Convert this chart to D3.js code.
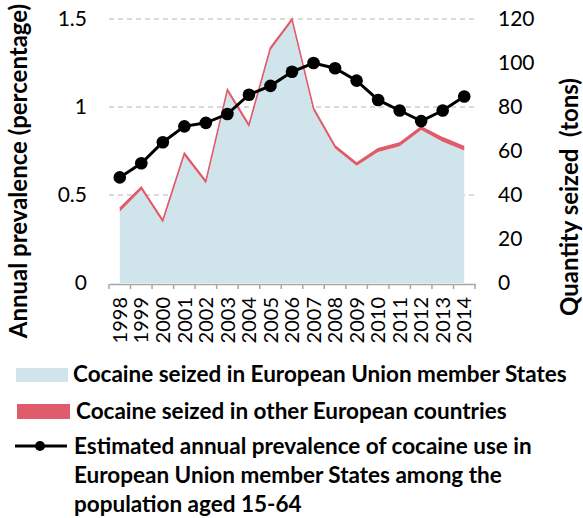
<!DOCTYPE html>
<html>
<head>
<meta charset="utf-8">
<script src="https://cdn.jsdelivr.net/npm/d3@7"></script>
<style>
  html, body { margin: 0; padding: 0; background: #fff; }
  svg { display: block; font-family: Lato, "Open Sans", sans-serif; }
</style>
</head>
<body>
<svg id="chart" width="583" height="518"></svg>
<script>
// ---------- data ----------
const years = ["1998","1999","2000","2001","2002","2003","2004","2005","2006","2007","2008","2009","2010","2011","2012","2013","2014"];
// tons seized in EU member States
const seizedEU = [32.4, 42.4, 27.4, 57.8, 45.2, 86.8, 70.8, 105.8, 119.0, 78.3, 61.1, 53.3, 59.6, 62.2, 69.6, 64.2, 60.2];
// tons seized in other European countries (stacked on top)
const seizedOther = [1.6, 1.2, 1.2, 1.2, 1.2, 1.2, 1.2, 1.2, 1.0, 1.2, 1.2, 1.2, 1.4, 1.4, 1.4, 1.8, 1.8];
// annual prevalence (%) of cocaine use, EU, age 15-64
const prevalence = [0.60, 0.68, 0.80, 0.89, 0.91, 0.96, 1.07, 1.12, 1.20, 1.25, 1.22, 1.15, 1.04, 0.98, 0.92, 0.98, 1.06];
const leftTicks = [0, 0.5, 1, 1.5];
const leftTickLabels = ["0", "0.5", "1", "1.5"];
const rightTicks = [0, 20, 40, 60, 80, 100, 120];
const legendLabels = [
  "Cocaine seized in European Union member States",
  "Cocaine seized in other European countries",
  ["Estimated annual prevalence of cocaine use in", "European Union member States among the", "population aged 15-64"]
];
const leftTitle = "Annual prevalence (percentage)";
const rightTitle = "Quantity seized\u00a0 (tons)";

// ---------- styles ----------
const blue = "#cfe4eb", red = "#e05b6b";

const svg = d3.select("#chart");
const plot = { left: 109, right: 475, top: 19, bottom: 283 };

const x = d3.scaleBand().domain(years).range([plot.left, plot.right]);
const xc = d => x(d) + x.bandwidth() / 2;
const yL = d3.scaleLinear().domain([0, 1.5]).range([plot.bottom, plot.top]);
const yR = d3.scaleLinear().domain([0, 120]).range([plot.bottom, plot.top]);

// gridlines
svg.append("g").selectAll("line").data(leftTicks.filter(t => t > 0)).join("line")
  .attr("x1", plot.left).attr("x2", plot.right)
  .attr("y1", d => yL(d)).attr("y2", d => yL(d))
  .attr("stroke", "#b4b4b4").attr("stroke-width", 1).attr("stroke-dasharray", "5,4");

// stacked areas
const rows = years.map((y, i) => ({ year: y, eu: seizedEU[i], other: seizedOther[i] }));
const stack = d3.stack().keys(["eu", "other"])(rows);
const area = d3.area().x(d => xc(d.data.year)).y0(d => yR(d[0])).y1(d => yR(d[1]));
svg.append("path").datum(stack[0]).attr("d", area).attr("fill", blue);
svg.append("path").datum(stack[1]).attr("d", area).attr("fill", red);
svg.append("path").datum(stack[1])
  .attr("d", d3.line().x(d => xc(d.data.year)).y(d => yR(d[1])))
  .attr("fill", "none").attr("stroke", red).attr("stroke-width", 1.5);

// x axis
const xAxis = d3.axisBottom(x).tickSize(0).tickFormat(() => "");
const gx = svg.append("g").attr("transform", `translate(0,${plot.bottom + 1})`).call(xAxis);
gx.select(".domain").attr("stroke", "#a6a6a6").attr("stroke-width", 1.5);
const bounds = years.map(d => x(d)).concat([plot.right]);
gx.selectAll(".bt").data(bounds).join("line").attr("class", "bt")
  .attr("x1", d => d).attr("x2", d => d).attr("y1", 0).attr("y2", 5)
  .attr("stroke", "#a6a6a6").attr("stroke-width", 1.5);
svg.append("g").selectAll("text").data(years).join("text")
  .attr("transform", d => `translate(${xc(d)},297) rotate(-90)`)
  .attr("text-anchor", "end").attr("dy", "0.36em")
  .attr("font-size", 20).attr("fill", "#000").text(d => d);

// left axis
const gl = svg.append("g").attr("transform", `translate(${plot.left},0)`)
  .call(d3.axisLeft(yL).tickValues(leftTicks).tickSize(0).tickPadding(22).tickFormat((d, i) => leftTickLabels[i]));
gl.select(".domain").remove();
gl.selectAll("text").attr("font-size", 21).attr("font-family", "Lato, sans-serif").attr("fill", "#000");

// right axis
const gr = svg.append("g").attr("transform", `translate(${plot.right},0)`)
  .call(d3.axisRight(yR).tickValues(rightTicks).tickSize(0).tickPadding(23).tickFormat(d3.format("d")));
gr.select(".domain").remove();
gr.selectAll("text").attr("font-size", 21).attr("font-family", "Lato, sans-serif").attr("fill", "#000");

// prevalence line
svg.append("path").datum(prevalence)
  .attr("d", d3.line().x((d, i) => xc(years[i])).y(d => yL(d)))
  .attr("fill", "none").attr("stroke", "#000").attr("stroke-width", 3);
svg.append("g").selectAll("circle").data(prevalence).join("circle")
  .attr("cx", (d, i) => xc(years[i])).attr("cy", d => yL(d)).attr("r", 6.3).attr("fill", "#000");

// axis titles
svg.append("text").attr("transform", "translate(27,171) rotate(-90)")
  .attr("text-anchor", "middle").attr("font-weight", "bold").attr("font-size", 24).text(leftTitle);
svg.append("text").attr("transform", "translate(578,197) rotate(-90)")
  .attr("text-anchor", "middle").attr("font-weight", "bold").attr("font-size", 24)
  .attr("xml:space", "preserve").text(rightTitle);

// legend
const lg = svg.append("g").attr("font-weight", "bold").attr("font-size", 22.5);
lg.append("rect").attr("x", 16).attr("y", 368).attr("width", 52).attr("height", 14).attr("fill", blue);
lg.append("text").attr("x", 73).attr("y", 382).text(legendLabels[0]);
lg.append("rect").attr("x", 17).attr("y", 404).attr("width", 53).attr("height", 15).attr("fill", red);
lg.append("text").attr("x", 76).attr("y", 419).text(legendLabels[1]);
lg.append("line").attr("x1", 15).attr("x2", 67).attr("y1", 446).attr("y2", 446).attr("stroke", "#000").attr("stroke-width", 3);
lg.append("circle").attr("cx", 40).attr("cy", 446).attr("r", 5).attr("fill", "#000");
lg.append("text").selectAll("tspan").data(legendLabels[2]).join("tspan")
  .attr("x", 74).attr("y", (d, i) => 454 + i * 29).text(d => d);
</script>
</body>
</html>
